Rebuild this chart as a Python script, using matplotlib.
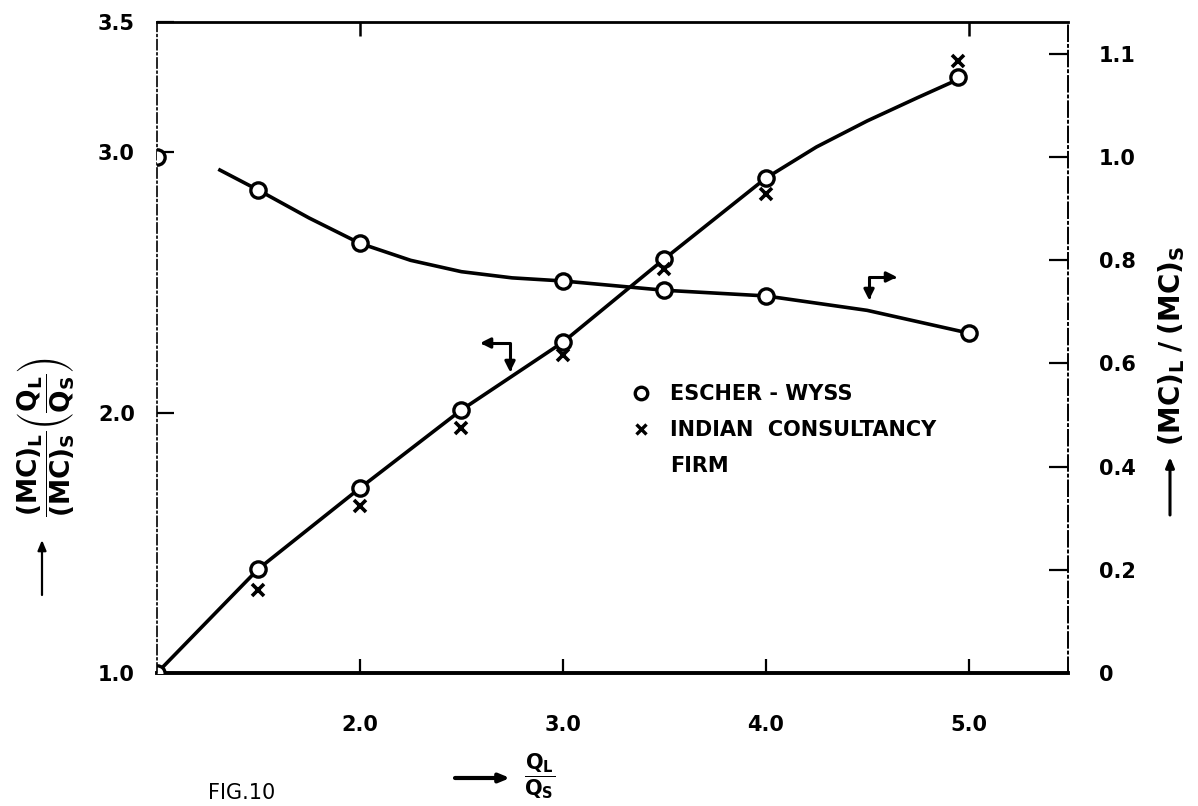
import matplotlib.pyplot as plt
from matplotlib.lines import Line2D

# ratio of large to small discharge (x axis)
ratio_pts = [1.0, 1.5, 2.0, 2.5, 3.0, 3.5, 4.0, 4.95]
# cost ratio * (QL/QS), left axis, Escher-Wyss circles
cost_escher = [1.00, 1.40, 1.71, 2.01, 2.27, 2.59, 2.90, 3.29]
# same quantity, Indian consultancy firm crosses
ratio_indian = [1.5, 2.0, 2.5, 3.0, 3.5, 4.0, 4.95]
cost_indian = [1.32, 1.64, 1.94, 2.22, 2.55, 2.84, 3.35]
# traced rising curve
cost_curve_x = [1.0, 1.5, 2.0, 2.5, 3.0, 3.5, 4.0, 4.25, 4.5, 4.75, 4.95]
cost_curve_y = [1.00, 1.40, 1.71, 2.01, 2.27, 2.59, 2.90, 3.02, 3.12, 3.21, 3.28]

# (MC)L/(MC)S, right axis, circles
mc_x = [1.0, 1.5, 2.0, 3.0, 3.5, 4.0, 5.0]
mc_ratio = [1.00, 0.936, 0.833, 0.760, 0.742, 0.731, 0.659]
# traced falling curve
mc_curve_x = [1.31, 1.5, 1.75, 2.0, 2.25, 2.5, 2.75, 3.0, 3.5, 4.0, 4.5, 5.0]
mc_curve_y = [0.975, 0.936, 0.882, 0.833, 0.800, 0.778, 0.766, 0.760, 0.742, 0.731, 0.703, 0.659]

x_ticks = [2.0, 3.0, 4.0, 5.0]
x_ticklabels = ['2.0', '3.0', '4.0', '5.0']
left_ticks = [1.0, 2.0, 3.0, 3.5]
left_ticklabels = ['1.0', '2.0', '3.0', '3.5']
right_ticks = [0, 0.2, 0.4, 0.6, 0.8, 1.0, 1.2]
right_ticklabels = ['0', '0.2', '0.4', '0.6', '0.8', '1.0', '1.1']

W, H = 1198, 806
fig = plt.figure(figsize=(W / 100, H / 100), dpi=100)
ax = fig.add_axes([157 / W, 1 - 673 / H, (1068 - 157) / W, (673 - 22) / H])
ax2 = ax.twinx()

ax.set_xlim(1.0, 5.49)
ax.set_ylim(1.0, 3.5)
ax2.set_ylim(0, 1.262)

lw = 2.6
ax.plot(cost_curve_x, cost_curve_y, color='black', lw=lw, zorder=2)
ax.plot(ratio_pts, cost_escher, 'o', ms=11, mfc='white', mec='black', mew=2.4, zorder=3)
ax.plot(ratio_indian, cost_indian, 'x', ms=8, mec='black', mew=2.6, zorder=3)

ax2.plot(mc_curve_x, mc_curve_y, color='black', lw=lw, zorder=2)
ax2.plot(mc_x, mc_ratio, 'o', ms=11, mfc='white', mec='black', mew=2.4, zorder=3)

# spines
for s in ['left', 'right']:
    ax.spines[s].set_visible(False)
ax.spines['top'].set_linewidth(2.0)
ax.spines['bottom'].set_linewidth(2.8)
ax2.spines['left'].set_linestyle((0, (6, 2, 1, 2)))
ax2.spines['left'].set_linewidth(1.2)
ax2.spines['right'].set_linestyle((0, (8, 2, 1, 2)))
ax2.spines['right'].set_linewidth(1.4)
for s in ['top', 'bottom']:
    ax2.spines[s].set_visible(False)

tick_font = dict(fontsize=15, fontweight='bold')
ax.set_xticks(x_ticks)
ax.set_xticklabels(x_ticklabels, **tick_font)
ax.set_yticks(left_ticks)
ax.set_yticklabels(left_ticklabels, **tick_font)
ax.tick_params(axis='x', direction='in', length=10, width=1.6, pad=30)
ax.tick_params(axis='y', direction='in', length=12, width=1.6, pad=16)
ax2.set_yticks(right_ticks)
ax2.set_yticklabels(right_ticklabels, **tick_font)
ax2.tick_params(axis='y', direction='in', length=14, width=1.6, pad=22)

top = ax.secondary_xaxis('top')
top.set_xticks([2.0, 5.0])
top.set_xticklabels([])
top.tick_params(direction='in', length=10, width=1.8)
top.spines['top'].set_visible(False)

# pointer arrows to the relevant axis
pointer = dict(arrowstyle='<|-|>,head_length=0.6,head_width=0.3', lw=2.2,
               color='black', shrinkA=0, shrinkB=0,
               connectionstyle='angle,angleA=90,angleB=0,rad=0')
ax.annotate('', xy=(0.3546, 0.5069), xytext=(0.3875, 0.4624), xycoords='axes fraction',
            arrowprops=pointer)
ax.annotate('', xy=(0.8123, 0.6083), xytext=(0.7816, 0.5730), xycoords='axes fraction',
            arrowprops=pointer)

# legend
handles = [Line2D([], [], ls='none', marker='o', ms=9, mfc='white', mec='black', mew=2.4),
           Line2D([], [], ls='none', marker='x', ms=7, mec='black', mew=2.4),
           Line2D([], [], ls='none')]
ax.legend(handles, ['ESCHER - WYSS', 'INDIAN  CONSULTANCY', 'FIRM'],
          loc='upper left', bbox_to_anchor=(622 / W, 1 - 376 / H),
          bbox_transform=fig.transFigure, frameon=False, handlelength=1.0,
          handletextpad=0.9, labelspacing=0.75, borderaxespad=0,
          prop=dict(size=15, weight='bold'))

# axis labels
fig.text(46 / W, 1 - 437 / H,
         r'$\mathbf{\dfrac{(MC)_L}{(MC)_S}\left(\dfrac{Q_L}{Q_S}\right)}$',
         rotation=90, ha='center', va='center', fontsize=19)
fig.text(1172 / W, 1 - 346 / H, r'$\mathbf{(MC)_L\;/\;(MC)_S}$',
         rotation=90, ha='center', va='center', fontsize=20)
fig.text(540 / W, 1 - 776 / H, r'$\mathbf{\dfrac{Q_L}{Q_S}}$',
         ha='center', va='center', fontsize=15)
fig.text(208 / W, 1 - 783 / H, 'FIG.10', ha='left', va='top', fontsize=15)

fig_arrow = dict(arrowstyle='-|>,head_length=0.6,head_width=0.25', lw=1.6, color='black',
                 shrinkA=0, shrinkB=0)
ax.annotate('', xy=(42 / W, 1 - 540 / H), xytext=(42 / W, 1 - 595 / H),
            xycoords='figure fraction', arrowprops=fig_arrow, annotation_clip=False)
ax.annotate('', xy=(1170 / W, 1 - 457 / H), xytext=(1170 / W, 1 - 515 / H),
            xycoords='figure fraction', arrowprops=dict(fig_arrow, lw=2.2),
            annotation_clip=False)
ax.annotate('', xy=(510 / W, 1 - 778 / H), xytext=(455 / W, 1 - 778 / H),
            xycoords='figure fraction', arrowprops=dict(fig_arrow, lw=3.0),
            annotation_clip=False)

fig.savefig('out.png', dpi=100)
